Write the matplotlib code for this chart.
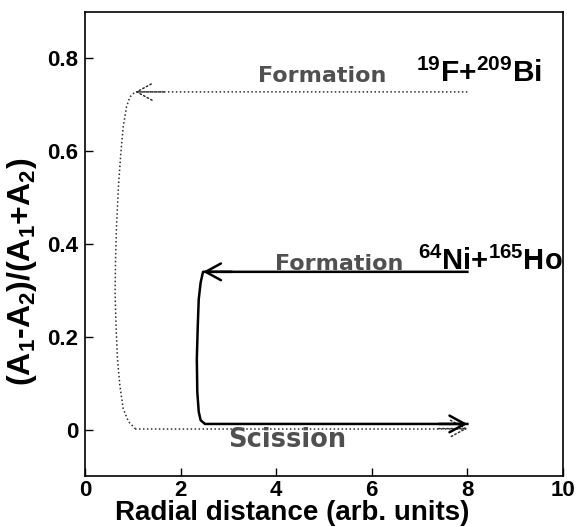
import matplotlib
matplotlib.use("Agg")
import matplotlib.pyplot as plt

# Dotted path: formation for 19F+209Bi
fbi_x = [8.0, 1.05, 0.94, 0.87, 0.80, 0.75, 0.70, 0.66, 0.64, 0.63, 0.65, 0.68,
         0.73, 0.80, 0.91, 1.05, 8.0]
fbi_y = [0.728, 0.728, 0.717, 0.696, 0.653, 0.596, 0.524, 0.438, 0.367, 0.295,
         0.224, 0.152, 0.095, 0.045, 0.017, 0.002, 0.002]

# Solid path: formation for 64Ni+165Ho
niho_x = [8.0, 2.47, 2.42, 2.38, 2.36, 2.34, 2.35, 2.38, 2.42, 2.51, 8.0]
niho_y = [0.340, 0.340, 0.317, 0.281, 0.224, 0.152, 0.081, 0.038, 0.020, 0.012, 0.012]

x_ticks = [0, 2, 4, 6, 8, 10]
y_ticks = [0, 0.2, 0.4, 0.6, 0.8]
y_tick_labels = ["0", "0.2", "0.4", "0.6", "0.8"]

plt.rcParams["font.family"] = ["Liberation Sans", "DejaVu Sans"]
plt.rcParams["mathtext.fontset"] = "custom"
plt.rcParams["mathtext.rm"] = "Liberation Sans:bold"
plt.rcParams["mathtext.bf"] = "Liberation Sans:bold"
plt.rcParams["mathtext.it"] = "Liberation Sans:bold"

fig = plt.figure(figsize=(5.78, 5.27), dpi=100)
ax = fig.add_axes([0.147, 0.097, 0.827, 0.880])

dot_color = "#2e2e2e"
dot_style = dict(color=dot_color, linewidth=1.1, linestyle=(0, (1, 1.6)))
ax.plot(fbi_x[:-1], fbi_y[:-1], **dot_style)
ax.plot(fbi_x[-2:], fbi_y[-2:], **dot_style)
ax.plot(niho_x, niho_y, color="black", linewidth=1.8)


def head(x_tip, y_tip, x_from, y_from, color, ls, lw):
    ax.annotate("", xy=(x_tip, y_tip), xytext=(x_from, y_from),
                arrowprops=dict(arrowstyle="->,head_length=0.55,head_width=0.3",
                                color=color, lw=lw, linestyle=ls,
                                mutation_scale=20, shrinkA=0, shrinkB=0))


head(fbi_x[1], fbi_y[1], fbi_x[1] + 0.6, fbi_y[1], dot_color, ":", 1.1)
head(fbi_x[-1], fbi_y[-1], fbi_x[-1] - 0.6, fbi_y[-1], dot_color, ":", 1.1)
head(niho_x[1], niho_y[1], niho_x[1] + 0.6, niho_y[1], "black", "-", 1.8)
head(niho_x[-1], niho_y[-1], niho_x[-1] - 0.6, niho_y[-1], "black", "-", 1.8)

gray = "#505050"
ax.text(6.3, 0.749, "Formation", family="DejaVu Sans", fontweight="bold",
        fontsize=16, color=gray, ha="right", va="baseline")
ax.text(9.56, 0.749, r"$^{19}$F+$^{209}$Bi", fontsize=21.5, fontweight="bold",
        ha="right", va="baseline")
ax.text(6.67, 0.345, "Formation", family="DejaVu Sans", fontweight="bold",
        fontsize=16, color=gray, ha="right", va="baseline")
ax.text(10.0, 0.345, r"$^{64}$Ni+$^{165}$Ho", fontsize=21, fontweight="bold",
        ha="right", va="baseline")
ax.text(2.99, -0.022, "Scission", family="DejaVu Sans", fontweight="bold",
        fontsize=18.5, color=gray, ha="left", va="center")

ax.set_xlim(0, 10)
ax.set_ylim(-0.1, 0.9)
ax.set_xticks(x_ticks)
ax.set_xticklabels([str(v) for v in x_ticks])
ax.set_yticks(y_ticks)
ax.set_yticklabels(y_tick_labels)
ax.tick_params(direction="in", length=6, width=1, labelsize=16)
ax.tick_params(axis="x", pad=3)
ax.tick_params(axis="y", pad=5)
for lab in ax.get_xticklabels() + ax.get_yticklabels():
    lab.set_fontweight("bold")
for side in ["left", "bottom", "right", "top"]:
    ax.spines[side].set_linewidth(1.2)

ax.set_xlabel("Radial distance (arb. units)", fontsize=20, fontweight="bold")
ax.xaxis.set_label_coords(0.433, -0.052, transform=ax.transAxes)
ax.xaxis.label.set_va("top")
ax.set_ylabel(r"(A$_1$-A$_2$)/(A$_1$+A$_2$)", fontsize=23, fontweight="bold")
ax.yaxis.set_label_coords(-0.096, 0.44, transform=ax.transAxes)

fig.savefig("out.png", dpi=100)
